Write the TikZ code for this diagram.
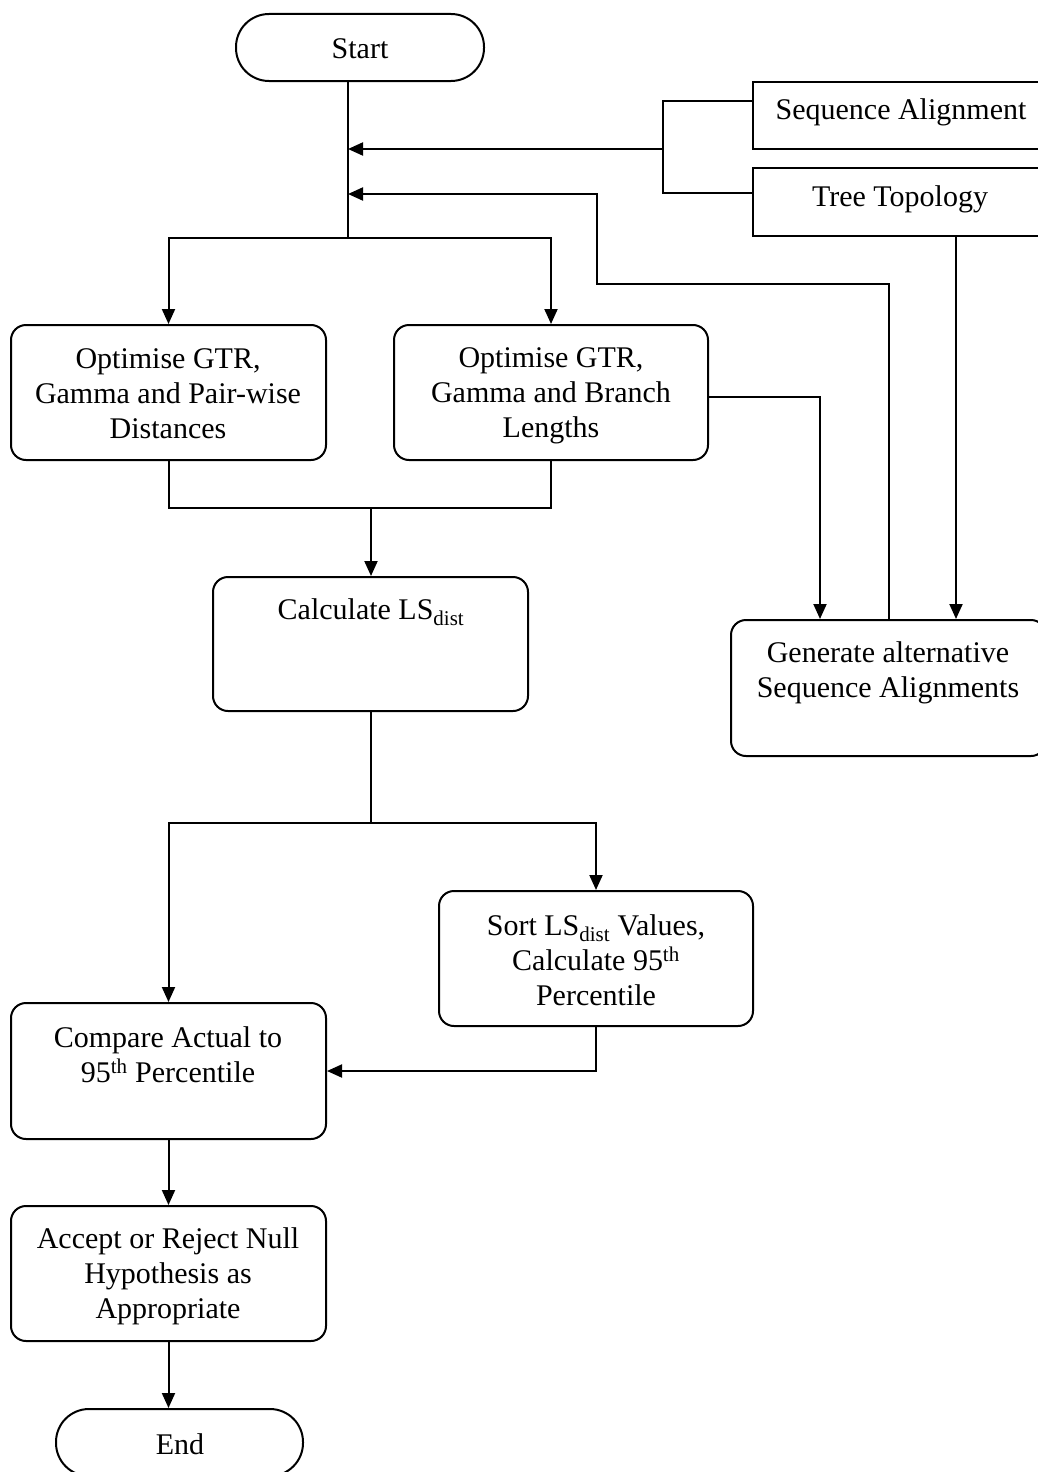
\documentclass[tikz,border=0pt]{standalone}
\usepackage{fontspec}
\setmainfont{Liberation Serif}
\usetikzlibrary{arrows.meta}
\begin{document}
\begin{tikzpicture}[x=1pt,y=-1pt,
  line width=2pt,
  >={Triangle[length=15pt,width=13pt]},
  every node/.style={font=\fontsize{30}{35}\selectfont},
  box/.style={draw, rounded corners=15pt, inner sep=0pt},
  plain/.style={draw, inner sep=0pt},
  term/.style={draw, rounded corners=33pt, inner sep=0pt},
  txt/.style={align=center, inner sep=0pt}
]
\useasboundingbox (0,0) rectangle (1038,1472);
\clip (0,0) rectangle (1038,1472);

% frames
\node[term, minimum width=248pt, minimum height=67pt] (start) at (360,47.5) {};
\node[plain, minimum width=292pt, minimum height=67pt] (seq) at (899,115.5) {};
\node[plain, minimum width=292pt, minimum height=68pt] (tree) at (899,202) {};
\node[box, minimum width=315pt, minimum height=135pt] (optA) at (168.5,392.5) {};
\node[box, minimum width=314pt, minimum height=135pt] (optB) at (551,392.5) {};
\node[box, minimum width=315pt, minimum height=134pt] (calc) at (370.5,644) {};
\node[box, minimum width=315pt, minimum height=136pt] (gen) at (888.5,688) {};
\node[box, minimum width=314pt, minimum height=135pt] (sort) at (596,958.5) {};
\node[box, minimum width=315pt, minimum height=136pt] (cmp) at (168.5,1071) {};
\node[box, minimum width=315pt, minimum height=135pt] (acc) at (168.5,1273.5) {};
\node[term, minimum width=247pt, minimum height=67pt] (end) at (179.5,1442.5) {};

% labels
\node[txt] (startT) at (360,49) {Start};
\node[txt] (seqT) at (901,112.5) {Sequence Alignment};
\node[txt] (treeT) at (900,199.5) {Tree Topology};
\node[txt] (optAT) at (168,393.5) {Optimise GTR,\\Gamma and Pair-wise\\Distances};
\node[txt] (optBT) at (551,396) {Optimise GTR,\\Gamma and Branch\\Lengths};
\node[txt] (calcT) at (371,612) {Calculate LS\textsubscript{dist}};
\node[txt] (genT) at (888,673) {Generate alternative\\Sequence Alignments};
\node[txt] (sortT) at (596,960) {Sort LS\textsubscript{dist} Values,\\Calculate 95\textsuperscript{th}\\Percentile};
\node[txt] (cmpT) at (168,1055) {Compare Actual to\\95\textsuperscript{th} Percentile};
\node[txt] (accT) at (168,1276) {Accept or Reject Null\\Hypothesis as\\Appropriate};
\node[txt] (endT) at (180,1444) {End};

% junction points
\coordinate (j1) at (348,238);
\coordinate (sb) at (663,149);
\coordinate (lp) at (597,194);
\coordinate (lpTop) at (597,284);
\coordinate (tx) at (956,0);
\coordinate (gx) at (820,0);
\coordinate (j2) at (371,508);
\coordinate (j3) at (371,823);

% connectors
\draw (start.south -| j1) -- (j1);
\draw[->] (j1) -| (optA.north);
\draw[->] (j1) -| (optB.north);
\draw ([yshift=14.5pt]seq.west) -| (sb);
\draw ([yshift=9pt]tree.west) -| (sb);
\draw[->] (sb) -- (sb -| j1);
\draw[->] (gen.north) |- (lpTop) -- (lp) -- (lp -| j1);
\draw[->] (tree.south -| tx) -- (gen.north -| tx);
\draw[->] ([yshift=-4.5pt]optB.east) -| (gen.north -| gx);
\draw (optA.south) |- (j2);
\draw (optB.south) |- (j2);
\draw[->] (j2) -- (calc.north -| j2);
\draw (calc.south -| j3) -- (j3);
\draw[->] (j3) -| (cmp.north);
\draw[->] (j3) -| (sort.north);
\draw[->] (sort.south) |- (cmp.east);
\draw[->] (cmp.south) -- (acc.north);
\draw[->] (acc.south) -- (end.north -| acc.south);
\end{tikzpicture}
\end{document}
